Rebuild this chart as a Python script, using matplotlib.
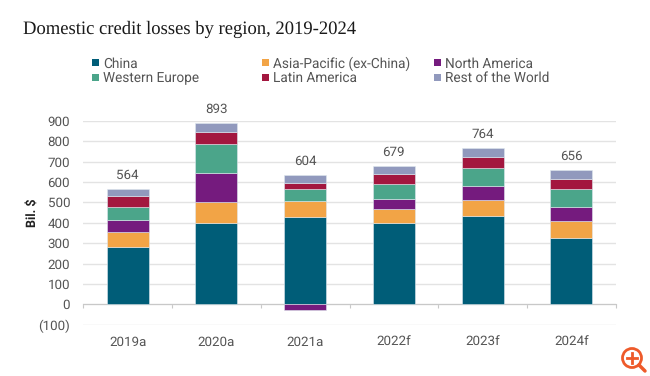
#!/usr/bin/env python3
import numpy as np
from matplotlib import pyplot as plt
from matplotlib.patches import Circle, Rectangle

years = ['2019a', '2020a', '2021a', '2022f', '2023f', '2024f']
totals = [564, 893, 604, 679, 764, 656]
china = [282, 398, 430, 398, 434, 325]
asia_pacific = [74, 102, 75, 72, 77, 83]
north_america = [57, 144, -30, 48, 71, 69]
western_europe = [64, 145, 59, 74, 85, 87]
latin_america = [54, 59, 34, 46, 56, 52]
rest_of_world = [33, 42, 35, 42, 42, 41]
y_ticks = [-100, 0, 100, 200, 300, 400, 500, 600, 700, 800, 900]
y_labels = ['(100)', '0', '100', '200', '300', '400', '500', '600', '700', '800', '900']

names = ['China', 'Asia-Pacific (ex-China)', 'North America',
         'Western Europe', 'Latin America', 'Rest of the World']
series = [china, asia_pacific, north_america, western_europe, latin_america, rest_of_world]
colors = ['#005d78', '#f2a446', '#751b7e', '#4ba58a', '#a3173f', '#9199bd']

W, H = 650, 376
GREY = '#555555'


def main():
    plt.rcParams['font.family'] = ['Roboto', 'DejaVu Sans']
    plt.rcParams['text.hinting'] = 'none'
    fig = plt.figure(figsize=(W/100, H/100), dpi=100)
    ax = fig.add_axes([83.3/W, 1-324.7/H, 532.4/W, 203.7/H])

    x = np.arange(len(years))
    pos = np.zeros(len(years))
    neg = np.zeros(len(years))
    for vals, col in zip(series, colors):
        vals = np.array(vals, dtype=float)
        base = np.where(vals >= 0, pos, neg)
        ax.bar(x, vals, 0.475, bottom=base, color=col, edgecolor='#dfe8ee', linewidth=0.4, zorder=3)
        pos += np.clip(vals, 0, None)
        neg += np.clip(vals, None, 0)

    for i, t in enumerate(totals):
        ax.annotate(str(t), (x[i], pos[i]), xytext=(0, 10), textcoords='offset points',
                    ha='center', va='center', fontsize=9.6, color=GREY)
        ax.annotate(years[i], (x[i], -100), xytext=(0, -13), textcoords='offset points',
                    ha='center', va='center', fontsize=9.6, color=GREY)

    ax.set_xlim(-0.5, 5.5)
    ax.set_ylim(-100, 900)
    ax.set_yticks(y_ticks, y_labels, fontsize=9.6, color=GREY)
    ax.set_xticks(np.arange(-0.5, 6, 1), [])
    ax.tick_params(axis='y', length=0, pad=9.5)
    ax.tick_params(axis='x', length=3, width=0.8, color='#c8c8c8')
    ax.grid(True, axis='y', color='#e3e3e3', linewidth=1, zorder=0)
    ax.set_axisbelow(True)
    for s in ['top', 'left', 'right']:
        ax.spines[s].set_visible(False)
    ax.spines['bottom'].set_position(('data', 0))
    ax.spines['bottom'].set_color('#c8c8c8')

    fig.text(33/W, 1-213/H, 'Bil. $', rotation=90, ha='center', va='center',
             fontsize=9, fontweight='bold', color='#222222')
    fig.text(23/W, 1-29/H, 'Domestic credit losses by region, 2019-2024',
             family='Liberation Serif', fontsize=13.4, color='#1a1a1a', va='center')

    # overlay in pixel coordinates for the legend and the zoom icon
    over = fig.add_axes([0, 0, 1, 1], facecolor='none')
    over.set_xlim(0, W)
    over.set_ylim(H, 0)
    over.axis('off')

    # drawn by hand, a legend would not give the even column starts of the original
    col_x = [92, 262, 434]
    row_y = [62.5, 77]
    for i, name in enumerate(names):
        lx = col_x[i % 3]
        ly = row_y[i // 3]
        over.add_patch(Rectangle((lx, ly-3.5), 7, 7, color=colors[i], linewidth=0))
        over.text(lx+11, ly, name, fontsize=9.8, color=GREY, va='center_baseline')

    over.add_patch(Circle((632, 358), 9.5, fill=False, edgecolor='#ee5a2a', linewidth=2))
    over.plot([639, 645], [365, 371], color='#ee5a2a', linewidth=2.5, solid_capstyle='round')
    over.plot([627, 637], [358, 358], color='#ee5a2a', linewidth=2)
    over.plot([632, 632], [353, 363], color='#ee5a2a', linewidth=2)

    fig.savefig('out.png', dpi=100)


if __name__ == '__main__':
    main()
